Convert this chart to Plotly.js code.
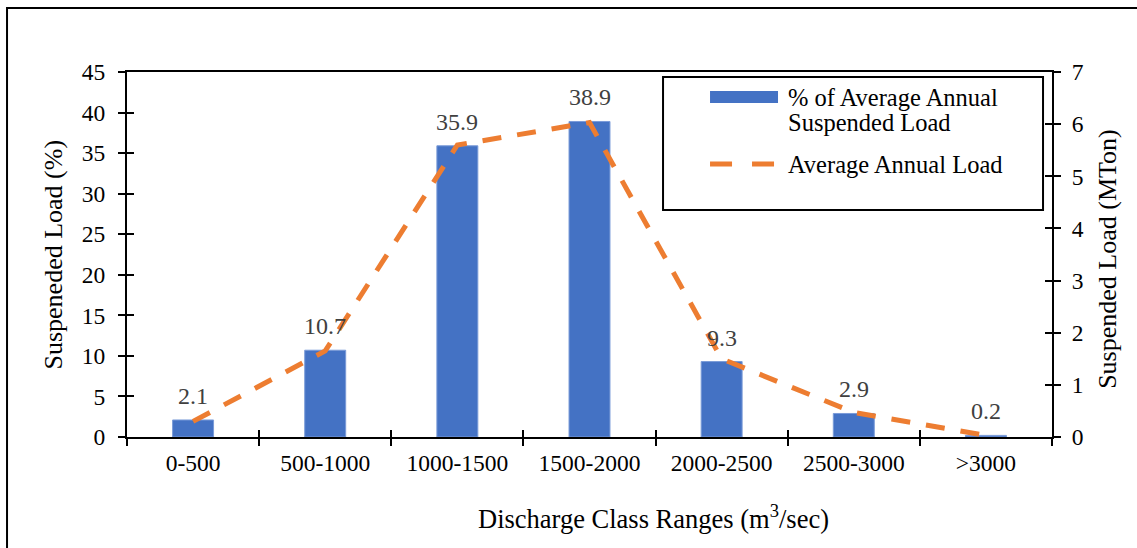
<!DOCTYPE html>
<html>
<head>
<meta charset="utf-8">
<script src="https://cdn.plot.ly/plotly-3.0.1.min.js"></script>
<style>html,body{margin:0;padding:0;background:#fff;}#chart{width:1137px;height:548px;}</style>
</head>
<body>
<div id="chart"></div>
<script>
// ---- data ----
const categories = ['0-500', '500-1000', '1000-1500', '1500-2000', '2000-2500', '2500-3000', '>3000'];
const percentLoad = [2.1, 10.7, 35.9, 38.9, 9.3, 2.9, 0.2];
const annualLoad = [0.3, 1.65, 5.6, 6.03, 1.5, 0.47, 0.03];
const seriesNames = ['% of Average Annual<br>Suspended Load', 'Average Annual Load'];
const leftTicks = [0, 5, 10, 15, 20, 25, 30, 35, 40, 45];
const rightTicks = [0, 1, 2, 3, 4, 5, 6, 7];
const xTitle = 'Discharge Class Ranges (m<sup>3</sup>/sec)';
const yTitle = 'Suspeneded Load (%)';
const y2Title = 'Suspended Load (MTon)';

const FONT = '"Liberation Serif", "Times New Roman", serif';
const BLUE = '#4472C4';
const ORANGE = '#ED7D31';

const traces = [
  {
    type: 'bar', x: categories, y: percentLoad, name: seriesNames[0],
    width: 0.31, marker: {color: BLUE, line: {color: '#7A9BD8', width: 1}},
    xaxis: 'x', yaxis: 'y', hoverinfo: 'x+y'
  },
  {
    type: 'scatter', mode: 'lines', x: categories, y: annualLoad, name: seriesNames[1],
    line: {color: ORANGE, width: 5, dash: '19px,16px'},
    xaxis: 'x', yaxis: 'y2'
  },
  // dummy traces to show inside tick marks (crossing ticks)
  {type: 'scatter', mode: 'markers', x: [null], y: [null], xaxis: 'x2', yaxis: 'y3', hoverinfo: 'skip'},
  {type: 'scatter', mode: 'markers', x: [null], y: [null], xaxis: 'x2', yaxis: 'y4', hoverinfo: 'skip'}
];

const boundaries = categories.map((c, i) => i - 0.5).concat([categories.length - 0.5]);

const tickFont = {family: FONT, size: 23.5, color: '#000'};
const annotations = [];

// data labels
categories.forEach((c, i) => {
  annotations.push({
    x: c, y: percentLoad[i], xref: 'x', yref: 'y', text: String(percentLoad[i]),
    showarrow: false, yanchor: 'bottom', yshift: 9,
    font: {family: FONT, size: 24, color: '#404040'}
  });
});

// axis titles
annotations.push({xref: 'paper', yref: 'paper', x: 0.569, y: -0.219, text: xTitle, showarrow: false,
  xanchor: 'center', yanchor: 'middle', font: {family: FONT, size: 26.5, color: '#000'}});
annotations.push({xref: 'paper', yref: 'paper', x: -0.08, y: 0.5, text: yTitle, showarrow: false, textangle: -90,
  xanchor: 'center', yanchor: 'middle', font: {family: FONT, size: 26, color: '#000'}});
annotations.push({xref: 'paper', yref: 'paper', x: 1.0605, y: 0.488, text: y2Title, showarrow: false, textangle: -90,
  xanchor: 'center', yanchor: 'middle', font: {family: FONT, size: 26, color: '#000'}});

// legend texts
const legLines = seriesNames[0].split('<br>');
annotations.push({xref: 'paper', yref: 'paper', x: 0.7124, y: 0.9288, text: legLines[0], showarrow: false,
  xanchor: 'left', yanchor: 'middle', font: {family: FONT, size: 24.5, color: '#000'}});
annotations.push({xref: 'paper', yref: 'paper', x: 0.7124, y: 0.8603, text: legLines[1], showarrow: false,
  xanchor: 'left', yanchor: 'middle', font: {family: FONT, size: 24.5, color: '#000'}});
annotations.push({xref: 'paper', yref: 'paper', x: 0.7124, y: 0.7479, text: seriesNames[1], showarrow: false,
  xanchor: 'left', yanchor: 'middle', font: {family: FONT, size: 24.5, color: '#000'}});

const shapes = [
  // outer frame
  {type: 'rect', xref: 'paper', yref: 'paper', x0: -0.1297, x1: 1.2, y0: -0.4, y1: 1.1753,
   line: {color: '#000', width: 2}, fillcolor: 'rgba(0,0,0,0)'},
  // legend box
  {type: 'rect', xref: 'paper', yref: 'paper', x0: 0.5795, x1: 0.9903, y0: 0.6219, y1: 0.9863,
   line: {color: '#000', width: 2}, fillcolor: '#fff'},
  // legend swatches
  {type: 'rect', xref: 'paper', yref: 'paper', x0: 0.6303, x1: 0.7038, y0: 0.9151, y1: 0.9479,
   line: {width: 0}, fillcolor: BLUE},
  {type: 'line', xref: 'paper', yref: 'paper', x0: 0.6303, x1: 0.6995, y0: 0.7479, y1: 0.7479,
   line: {color: ORANGE, width: 5, dash: '22px,20px'}}
];

const layout = {
  width: 1137, height: 548,
  margin: {l: 127, r: 85, t: 72, b: 111, pad: 0},
  paper_bgcolor: '#fff', plot_bgcolor: '#fff',
  showlegend: false,
  font: {family: FONT, size: 23, color: '#000'},
  bargap: 0,
  xaxis: {
    type: 'category', categoryarray: categories, range: [-0.5, categories.length - 0.5],
    showline: true, linecolor: '#000', linewidth: 2, mirror: true,
    ticks: 'outside', tickson: 'boundaries', ticklen: 7, tickwidth: 2, tickcolor: '#000',
    ticklabelstandoff: 4,
    tickfont: tickFont, showgrid: false, zeroline: false, fixedrange: true
  },
  yaxis: {
    range: [0, 45], tickvals: leftTicks, ticktext: leftTicks.map(String),
    showline: true, linecolor: '#000', linewidth: 2,
    ticks: 'outside', ticklen: 7, tickwidth: 2, tickcolor: '#000',
    ticklabelstandoff: 8,
    tickfont: tickFont, showgrid: false, zeroline: false, fixedrange: true
  },
  yaxis2: {
    overlaying: 'y', side: 'right', anchor: 'x', range: [0, 7], tickvals: rightTicks, ticktext: rightTicks.map(String),
    showline: true, linecolor: '#000', linewidth: 2,
    ticks: 'outside', ticklen: 7, tickwidth: 2, tickcolor: '#000',
    ticklabelstandoff: 6,
    tickfont: tickFont, showgrid: false, zeroline: false, fixedrange: true
  },
  xaxis2: {
    overlaying: 'x', anchor: 'y3', range: [-0.5, categories.length - 0.5], tickvals: boundaries,
    showticklabels: false, ticks: 'inside', ticklen: 7, tickwidth: 2, tickcolor: '#000',
    showline: false, showgrid: false, zeroline: false, fixedrange: true
  },
  yaxis3: {
    overlaying: 'y', anchor: 'x2', range: [0, 45], tickvals: leftTicks,
    showticklabels: false, ticks: 'inside', ticklen: 7, tickwidth: 2, tickcolor: '#000',
    showline: false, showgrid: false, zeroline: false, fixedrange: true
  },
  yaxis4: {
    overlaying: 'y', side: 'right', anchor: 'x2', range: [0, 7], tickvals: rightTicks,
    showticklabels: false, ticks: 'inside', ticklen: 7, tickwidth: 2, tickcolor: '#000',
    showline: false, showgrid: false, zeroline: false, fixedrange: true
  },
  annotations: annotations,
  shapes: shapes
};

Plotly.newPlot('chart', traces, layout, {displayModeBar: false, staticPlot: true});
</script>
</body>
</html>
